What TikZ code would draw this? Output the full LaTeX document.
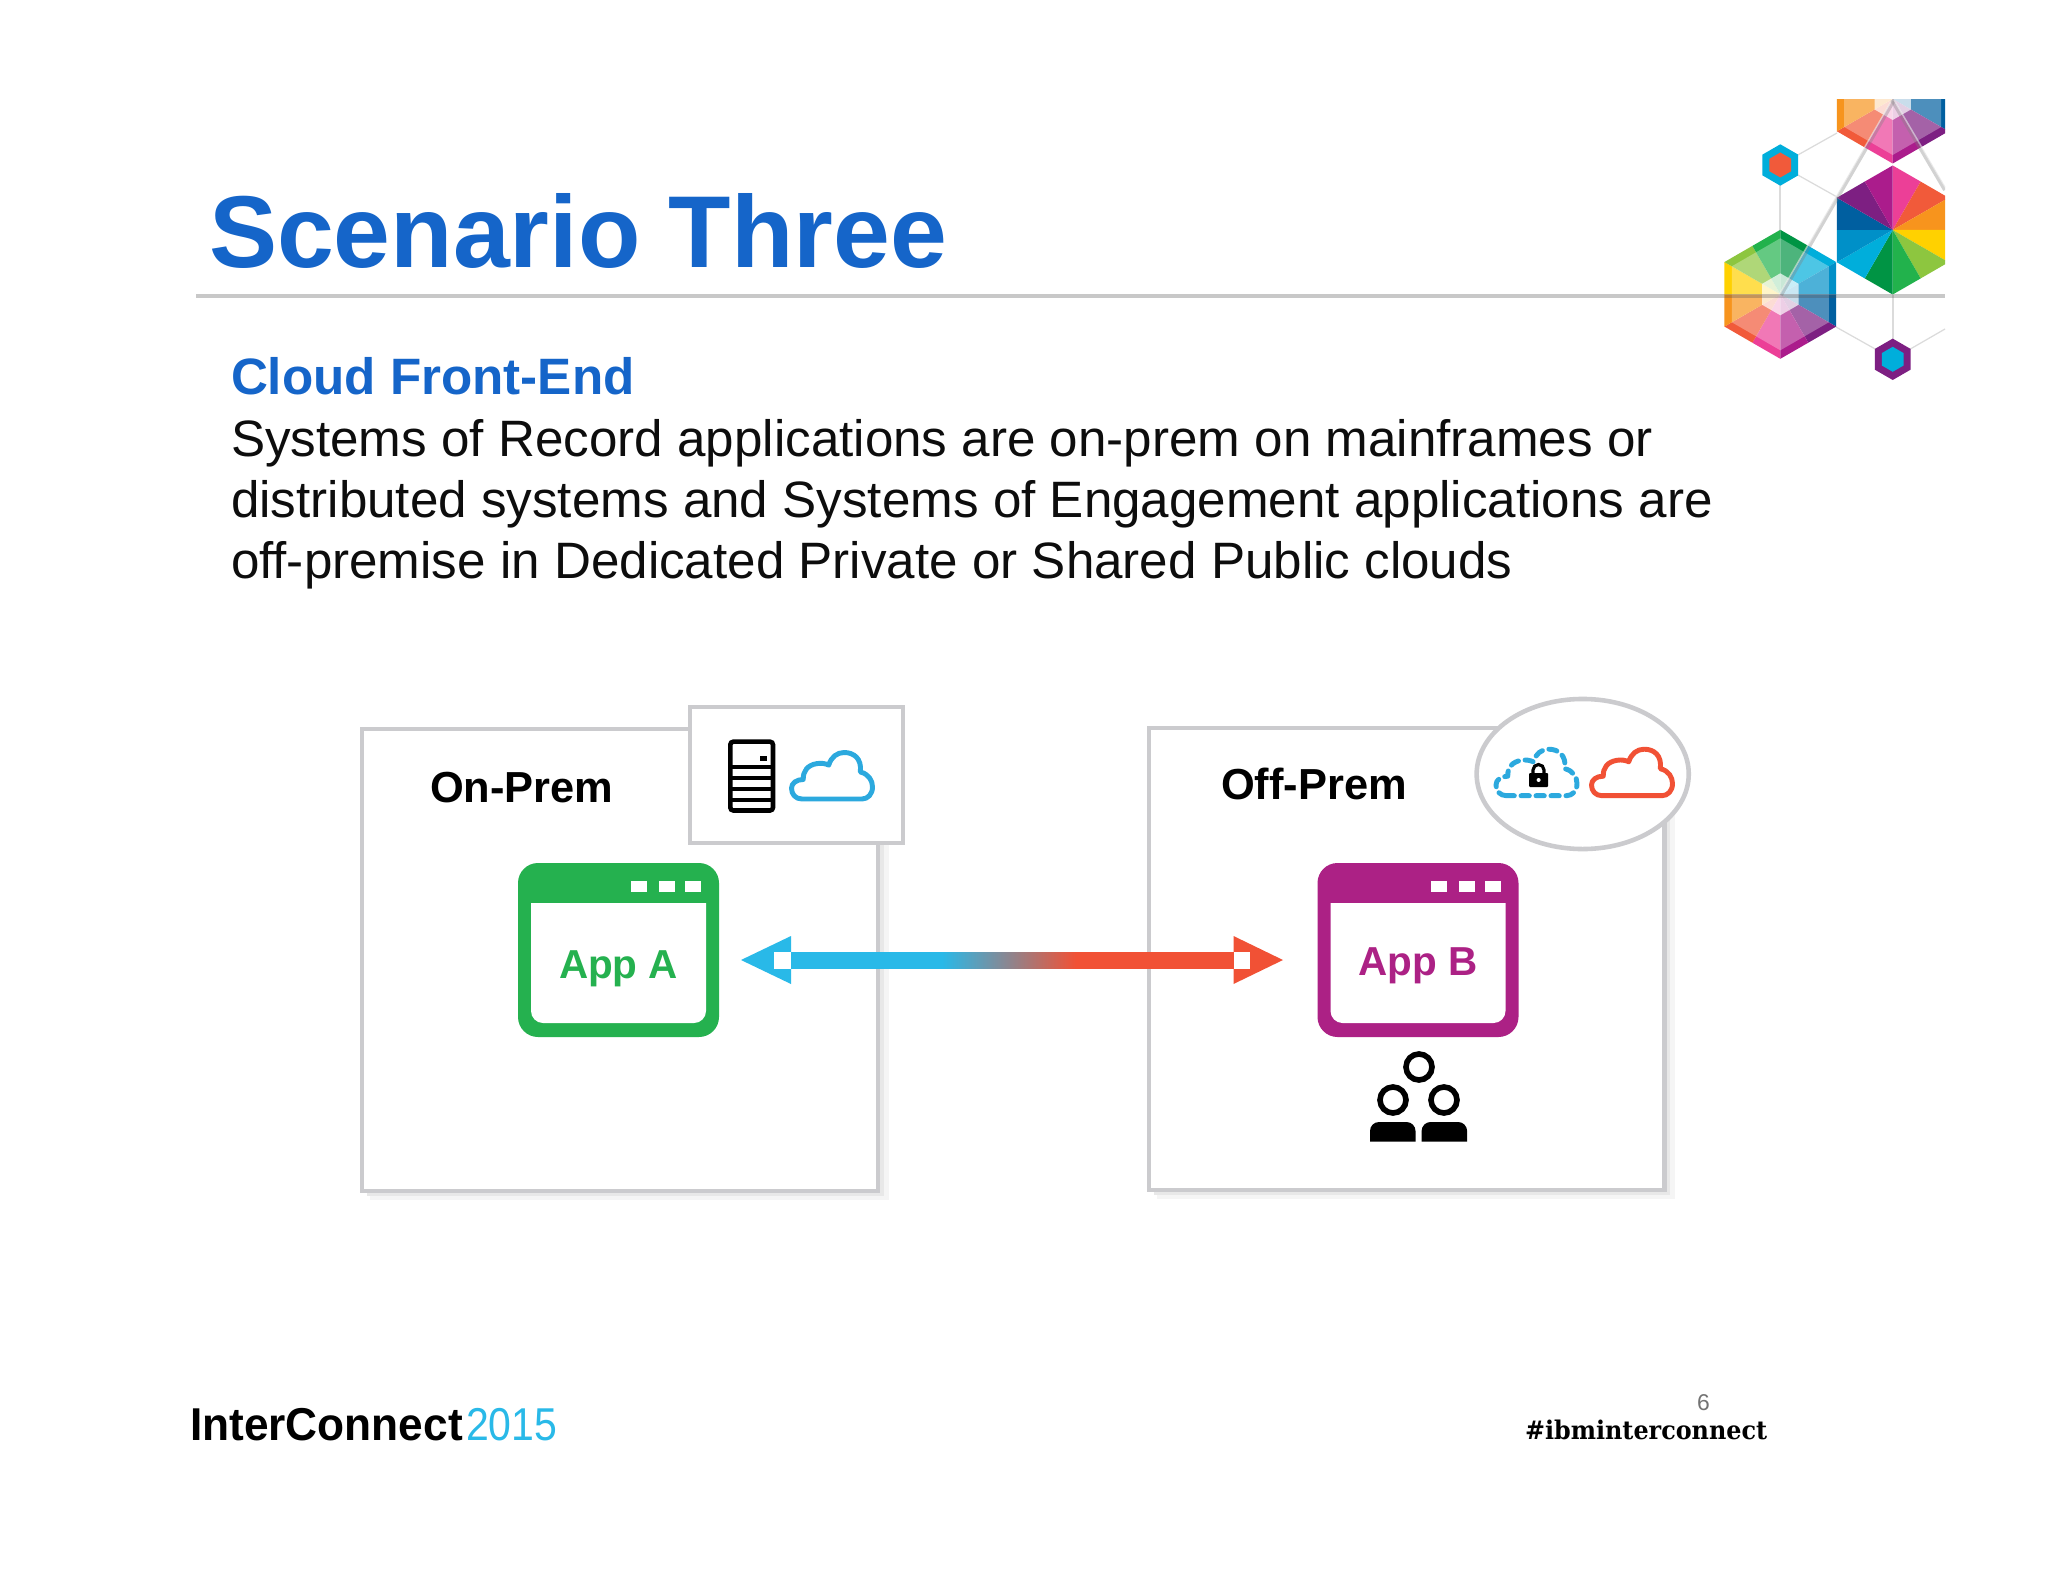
\documentclass[tikz,border=0pt]{standalone}
\usepackage{fontspec}
\setmainfont{Liberation Sans}
\newfontfamily\slabfont{DejaVu Serif}
\usetikzlibrary{positioning,shapes.geometric}

\definecolor{titleblue}{RGB}{21,101,201}
\definecolor{panelgray}{RGB}{203,203,206}
\definecolor{appgreen}{RGB}{37,177,79}
\definecolor{apppurple}{RGB}{172,33,133}
\definecolor{linkcyan}{RGB}{41,185,232}
\definecolor{cloudblue}{RGB}{44,169,222}
\definecolor{linkred}{RGB}{241,81,53}
\definecolor{hexpink}{RGB}{236,63,151}
\definecolor{hexred}{RGB}{241,90,58}
\definecolor{hexorange}{RGB}{247,148,29}
\definecolor{hexyellow}{RGB}{255,209,0}
\definecolor{hexlime}{RGB}{141,198,63}
\definecolor{hexgreen}{RGB}{34,178,76}
\definecolor{hexdeep}{RGB}{0,148,68}
\definecolor{hexcyan}{RGB}{0,174,219}
\definecolor{hexblue}{RGB}{0,144,200}
\definecolor{hexnavy}{RGB}{0,95,160}
\definecolor{hexviolet}{RGB}{125,31,130}
\definecolor{hexmagenta}{RGB}{171,28,140}

\tikzset{
  panel/.style={draw=panelgray, line width=1.3pt, fill=white, inner sep=0pt, outer sep=0pt},
  boxshade/.style={fill=black!9},
  boxshadow/.style={fill=black!4},
  textline/.style={anchor=base west, inner sep=0pt, outer sep=0pt},
  hairline/.style={draw=black!14, line width=0.35pt},
}

% px sizes are converted with 1px = 0.2845pt
\newcommand{\hexpath}[1]{(-90:#1) -- (-30:#1) -- (30:#1) -- (90:#1) -- (150:#1) -- (210:#1) -- cycle}
\newcommand{\facethex}[3]{%
  \begin{scope}[shift={(#1,#2)}]
    \foreach \col [count=\i from 0] in {hexpink,hexred,hexorange,hexyellow,hexlime,hexgreen,hexdeep,hexcyan,hexblue,hexnavy,hexviolet,hexmagenta}{
      \pgfmathsetmacro\ang{-90+30*(\i+#3)}
      \pgfmathsetmacro\ra{mod(\i+#3,2)==0 ? 64.5 : 55.9}
      \pgfmathsetmacro\rb{mod(\i+#3,2)==0 ? 55.9 : 64.5}
      \fill[\col] (0,0) -- (\ang:\ra) -- (\ang+30:\rb) -- cycle;
    }
  \end{scope}}
\newcommand{\fadedhex}[2]{%
  \begin{scope}[shift={(#1,#2)}]
    \fill[white, opacity=.3] \hexpath{56};
    \fill[white, opacity=.7] \hexpath{21};
  \end{scope}}
\newcommand{\cloudicon}[3]{%
  \begin{scope}[shift={(#1,#2)}, xscale=81, yscale=46.5]
    \draw[#3, line width=1.4pt, line join=round] (0.13,1) .. controls (0.05,1) and (0,0.9) .. (0,0.77)
      .. controls (0,0.66) and (0.06,0.58) .. (0.145,0.58)
      .. controls (0.14,0.4) and (0.2,0.27) .. (0.31,0.24)
      .. controls (0.37,0.22) and (0.42,0.24) .. (0.46,0.27)
      .. controls (0.49,0.1) and (0.56,0) .. (0.65,0)
      .. controls (0.77,0) and (0.87,0.13) .. (0.85,0.42)
      .. controls (0.95,0.46) and (1,0.6) .. (1,0.74)
      .. controls (1,0.9) and (0.94,1) .. (0.87,1) -- cycle;
  \end{scope}}

\begin{document}
\begin{tikzpicture}[x=0.01cm, y=-0.01cm]
  \useasboundingbox (0,0) rectangle (2048,1582);
  \fill[white] (0,0) rectangle (2048,1582);

  % Title and text
  \node (title) [textline, text=titleblue] at (209,268)
    {\fontsize{29.05}{30}\selectfont\bfseries Scenario Three};
  \node (subtitle) [textline, text=titleblue] at (231,394)
    {\fontsize{14.55}{17}\selectfont\bfseries Cloud Front-End};
  \foreach \t/\y [count=\i] in {
      Systems of Record applications are on-prem on mainframes or/456,
      distributed systems and Systems of Engagement applications are/517,
      off-premise in Dedicated Private or Shared Public clouds/578}
    \node (body\i) [textline, text=black!95] at (231,\y)
      {\fontsize{14.55}{17}\selectfont \t};

  % Logo
  \draw[hairline] (1780,165) -- (1837,133);
  \draw[hairline] (1780,165) -- (1837,197);
  \draw[hairline] (1780,165) -- (1780,230);
  \draw[hairline] (1836,327) -- (1893,359);
  \draw[hairline] (1893,295) -- (1893,359);
  \draw[hairline] (1893,359) -- (1945,329);
  \begin{scope}
    \clip (1650,100) rectangle (1945,420);
    \facethex{1892.7}{99}{6}
    \fadedhex{1892.7}{99}
    \facethex{1892.7}{230}{0}
    \facethex{1780.3}{294.3}{6}
    \fadedhex{1780.3}{294.3}
    % Folds
    \draw[black!50, opacity=.35, line width=1.1pt] (1894,100) -- (1781,295);
    \draw[white, opacity=.5, line width=.4pt] (1892,100) -- (1779,295);
    \draw[black!50, opacity=.35, line width=1.1pt] (1892,100) -- (1945,190);
    \draw[white, opacity=.5, line width=.4pt] (1894,100) -- (1947,190);
  \end{scope}
  \begin{scope}[shift={(1780.3,165)}]
    \fill[hexcyan] \hexpath{20.7};
    \fill[hexred] \hexpath{12.5};
  \end{scope}
  \begin{scope}[shift={(1892.7,359.3)}]
    \fill[hexviolet] \hexpath{20.7};
    \fill[hexcyan] \hexpath{12.5};
  \end{scope}
  \draw[black!70, opacity=.3, line width=1.1pt] (196,296) -- (1945,296);

  % Panels
  \fill[boxshadow] (370,737) rectangle (889,1200);
  \fill[boxshade] (367,734) rectangle (884,1196);
  \fill[boxshadow] (1157,737) rectangle (1675,1199);
  \fill[boxshade] (1154,733) rectangle (1670,1195);
  \node (onprem) [panel, minimum width=5.16cm, minimum height=4.62cm] at (620,960) {};
  \node (offprem) [panel, minimum width=5.156cm, minimum height=4.62cm] at (1406.8,959) {};
  \node (servicebox) [panel, minimum width=2.13cm, minimum height=1.36cm] at (796.5,775) {};
  \node (cloudoval) [panel, ellipse, minimum width=2.12cm, minimum height=1.5cm] at (1582.7,774) {};
  \node (onpremlabel) [textline] at (430,802)
    {\fontsize{12.35}{14}\selectfont\bfseries On-Prem};
  \node (offpremlabel) [textline] at (1221,799)
    {\fontsize{12.35}{14}\selectfont\bfseries Off-Prem};

  % Server
  \draw[black, line width=1.3pt, rounded corners=.3mm] (730.3,741.7) rectangle (773,810.5);
  \foreach \y in {767,778,789,800}
    \draw[black, line width=1.3pt] (730,\y) -- (773,\y);
  \fill[black] (760,756) rectangle (767.3,761);

  % Clouds
  \cloudicon{791.5}{752.5}{cloudblue}
  \cloudicon{1496}{749.2}{cloudblue, dash pattern=on 2.36pt off 1.9pt, line cap=round}
  \cloudicon{1591.5}{749.2}{linkred}

  % Lock
  \draw[black, line width=.9pt] (1533,775) -- (1533,770) arc[start angle=180, end angle=360, x radius=5.5, y radius=5.5] -- (1544,775);
  \fill[black, rounded corners=.1mm] (1529,773) rectangle (1548,787);
  \fill[white] (1538.6,780) circle (2);

  % Windows
  \foreach \name/\x/\col/\base/\cx in {A/518/appgreen/978/618.6, B/1317.5/apppurple/975/1418}{
    \fill[\col, rounded corners=2mm] (\x,863) rectangle (\x+201,1037);
    \fill[white] (\x+13,903) -- (\x+188,903) -- (\x+188,1011) arc[start angle=0, end angle=90, radius=12]
      -- (\x+25,1023) arc[start angle=90, end angle=180, radius=12] -- cycle;
    \foreach \bx in {113,141,167}
      \fill[white] (\x+\bx,881) rectangle (\x+\bx+16,892);
    \node (app\name) [anchor=base, inner sep=0pt, text=\col] at (\cx,\base)
      {\fontsize{11.5}{13}\selectfont\bfseries App \name};
  }

  % Link
  \coordinate (tipA) at (741,960);
  \coordinate (tipB) at (1283,960);
  \fill[linkcyan] (tipA) -- ++(50,-24) -- ++(0,48) -- cycle;
  \fill[linkred] (tipB) -- ++(-49.5,-24) -- ++(0,48) -- cycle;
  \fill[linkcyan] (791,952) rectangle (942,968.7);
  \shade[left color=linkcyan, right color=linkred, shading angle=90] (942,952) rectangle (1076,968.7);
  \fill[linkred] (1076,952) rectangle (1233.6,968.7);
  \fill[white] (774,952) rectangle (791,968.7);
  \fill[white] (1233.6,952) rectangle (1250.4,968.7);

  % People
  \foreach \hx/\hy in {1419/1067,1393/1100,1444/1100}
    \draw[black, line width=1.6pt] (\hx,\hy) circle (13);
  \foreach \bx in {1370,1421.6}
    \fill[black] (\bx,1141.5) -- (\bx,1131) arc[start angle=180, end angle=270, radius=9]
      -- (\bx+36.5,1122) arc[start angle=270, end angle=360, radius=9] -- (\bx+45.5,1141.5) -- cycle;

  % Footer
  \node (brand) [textline, xscale=.96] at (190,1440)
    {\fontsize{13.1}{15}\selectfont\bfseries InterConnect};
  \node (brandyear) [textline, text=linkcyan, xscale=.89] at (466,1440)
    {\fontsize{13.1}{15}\selectfont 2015};
  \node (pagenum) [textline, text=black!55] at (1697,1410)
    {\fontsize{6.5}{8}\selectfont 6};
  \node (hashtag) [textline, xscale=.93] at (1525,1439)
    {\fontsize{7.3}{10}\selectfont\slabfont\bfseries \#ibminterconnect};
\end{tikzpicture}
\end{document}
